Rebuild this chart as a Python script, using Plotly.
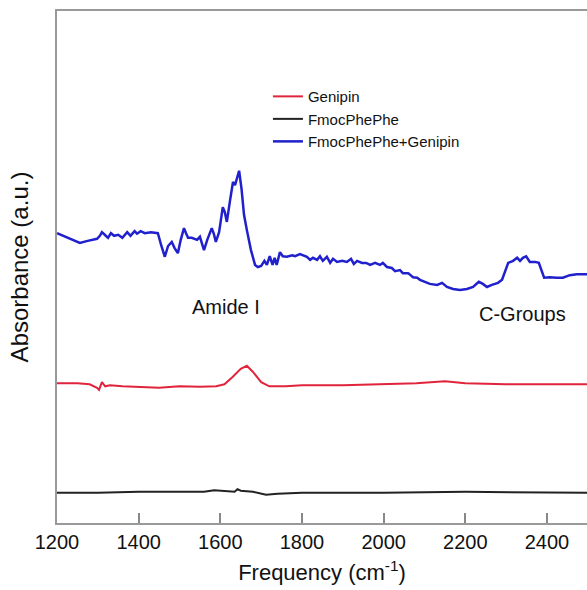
import plotly.graph_objects as go

# Frequency (cm^-1) and absorbance (a.u.)
blue_x = [1200, 1215, 1235, 1256, 1275, 1298, 1305, 1310, 1317, 1325, 1332, 1340, 1350, 1360,
          1372, 1380, 1390, 1396, 1405, 1415, 1430, 1447, 1455, 1464, 1472, 1481, 1488, 1496,
          1503, 1511, 1516, 1521, 1530, 1543, 1550, 1560, 1568, 1579, 1584, 1589, 1597, 1606,
          1611, 1616, 1624, 1631, 1636, 1641, 1646, 1652, 1658, 1665, 1675, 1685, 1692, 1700,
          1708, 1714, 1721, 1728, 1733, 1738,
          1746, 1753, 1763, 1776, 1783, 1795, 1802, 1812, 1820, 1827, 1837, 1844, 1851, 1861,
          1869, 1876, 1886, 1898, 1910, 1920, 1927, 1935, 1947, 1957, 1967, 1979, 1991, 1998,
          2008, 2020, 2028, 2040, 2047, 2060, 2072, 2082, 2089, 2101, 2113, 2131, 2143, 2155,
          2170, 2187, 2204, 2219, 2233, 2243, 2253, 2265, 2280, 2290, 2297, 2305, 2317, 2327,
          2334, 2341, 2349, 2358, 2371, 2380, 2393, 2407, 2424, 2439, 2456, 2473, 2500]
blue_y = [0.566, 0.561, 0.553, 0.547, 0.551, 0.555, 0.561, 0.568, 0.563, 0.557, 0.566, 0.561,
          0.563, 0.557, 0.568, 0.561, 0.570, 0.565, 0.570, 0.566, 0.568, 0.566, 0.543, 0.520,
          0.541, 0.549, 0.537, 0.527, 0.553, 0.576, 0.566, 0.557, 0.557, 0.553, 0.559, 0.533,
          0.553, 0.576, 0.565, 0.549, 0.568, 0.617, 0.607, 0.588, 0.631, 0.666, 0.660, 0.674,
          0.688, 0.652, 0.602, 0.572, 0.533, 0.504, 0.500, 0.502, 0.512, 0.504, 0.521, 0.504,
          0.518, 0.504,
          0.529, 0.521, 0.520, 0.523, 0.521, 0.525, 0.523, 0.520, 0.514, 0.518, 0.514, 0.521,
          0.512, 0.520, 0.508, 0.516, 0.510, 0.512, 0.510, 0.516, 0.506, 0.512, 0.508, 0.508,
          0.504, 0.508, 0.504, 0.508, 0.500, 0.498, 0.492, 0.494, 0.488, 0.488, 0.480, 0.479,
          0.475, 0.471, 0.467, 0.465, 0.469, 0.461, 0.457, 0.455, 0.457, 0.461, 0.471, 0.467,
          0.461, 0.465, 0.469, 0.475, 0.490, 0.508, 0.512, 0.518, 0.512, 0.518, 0.521, 0.510,
          0.510, 0.508, 0.479, 0.480, 0.479, 0.479, 0.484, 0.486, 0.486]

red_x = [1200, 1250, 1280, 1298, 1303, 1310, 1318, 1330, 1360, 1400, 1450, 1500, 1550, 1590,
         1610, 1630, 1650, 1665, 1680, 1700, 1720, 1760, 1800, 1900, 1980, 2030, 2080, 2150,
         2200, 2300, 2400, 2500]
red_y = [0.273, 0.273, 0.271, 0.264, 0.260, 0.275, 0.267, 0.269, 0.267, 0.266, 0.264, 0.267,
         0.266, 0.267, 0.271, 0.285, 0.301, 0.307, 0.295, 0.275, 0.267, 0.267, 0.269, 0.269,
         0.271, 0.273, 0.273, 0.277, 0.273, 0.271, 0.271, 0.271]

black_x = [1200, 1300, 1400, 1500, 1560, 1585, 1610, 1635, 1642, 1650, 1680, 1712, 1740, 1800,
           2000, 2200, 2500]
black_y = [0.059, 0.059, 0.061, 0.061, 0.061, 0.064, 0.063, 0.061, 0.066, 0.063, 0.061, 0.055,
           0.057, 0.059, 0.059, 0.061, 0.059]

tick_vals = [1200, 1400, 1600, 1800, 2000, 2200, 2400]
tick_text = ["1200", "1400", "1600", "1800", "2000", "2200", "2400"]

FONT = "Liberation Sans, Arial, sans-serif"

fig = go.Figure()
fig.add_trace(go.Scatter(x=red_x, y=red_y, mode="lines", name="Genipin",
                         line=dict(color="#e0243c", width=2)))
fig.add_trace(go.Scatter(x=black_x, y=black_y, mode="lines", name="FmocPhePhe",
                         line=dict(color="#222222", width=2)))
fig.add_trace(go.Scatter(x=blue_x, y=blue_y, mode="lines", name="FmocPhePhe+Genipin",
                         line=dict(color="#2020cc", width=2.5)))

fig.add_annotation(x=1614, y=0.422, text="Amide I", showarrow=False,
                   font=dict(size=20, color="#111", family=FONT))
fig.add_annotation(x=2339, y=0.408, text="C-Groups", showarrow=False,
                   font=dict(size=20, color="#111", family=FONT))

fig.update_layout(
    width=587, height=590,
    margin=dict(l=57, r=0, t=11, b=67),
    paper_bgcolor="white", plot_bgcolor="white",
    font=dict(family=FONT, color="#111"),
    showlegend=True,
    legend=dict(x=0.398, y=0.865, xanchor="left", yanchor="top",
                font=dict(size=15, color="#111", family=FONT),
                bgcolor="rgba(0,0,0,0)", tracegroupgap=0),
    xaxis=dict(range=[1200, 2498], tickvals=tick_vals, ticktext=tick_text,
               ticks="inside", ticklen=10, tickcolor="#888", tickwidth=1.5,
               showline=True, linecolor="#999", linewidth=1.5, mirror=True,
               showgrid=False, zeroline=False,
               tickfont=dict(size=20, color="#111", family=FONT),
               title=dict(text="Frequency (cm<sup>-1</sup>)", font=dict(size=22, color="#111", family=FONT),
                          standoff=13)),
    yaxis=dict(range=[0, 1], showticklabels=False, ticks="",
               showline=True, linecolor="#999", linewidth=1.5, mirror=False,
               showgrid=False, zeroline=False,
               title=dict(text="Absorbance (a.u.)", font=dict(size=24, color="#111", family=FONT),
                          standoff=20)),
)

fig.write_html("out.html", config={"displayModeBar": False},
               post_script="document.body.style.margin='0';document.body.style.overflow='hidden';")
